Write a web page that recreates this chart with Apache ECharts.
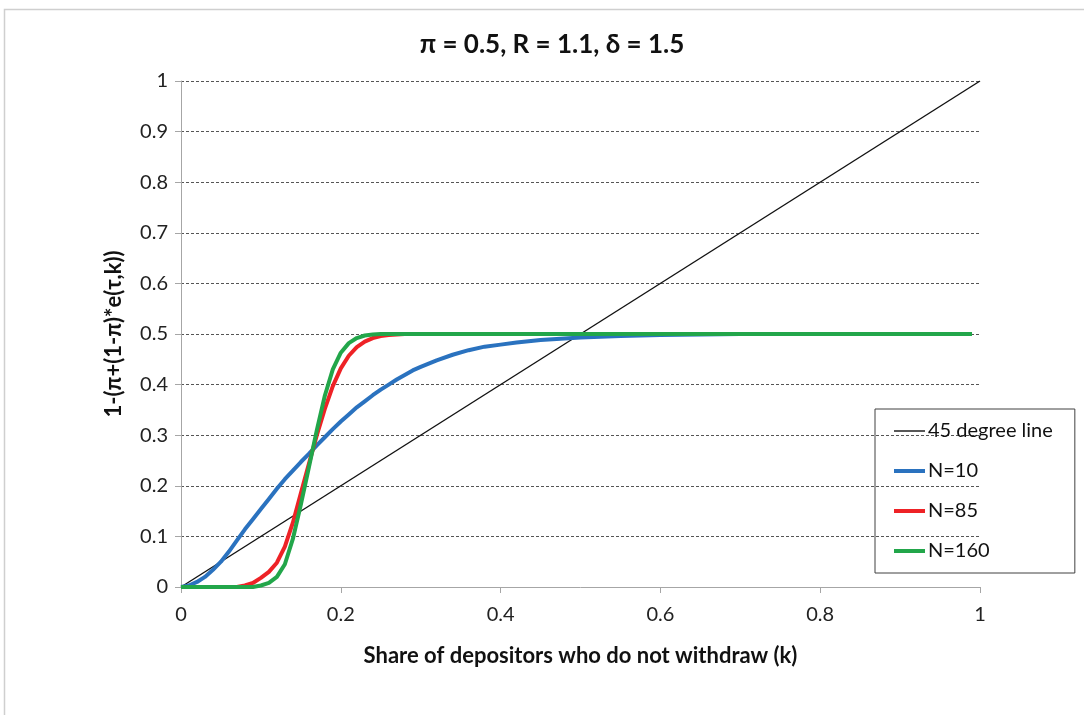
<!DOCTYPE html>
<html><head><meta charset="utf-8">
<script src="https://cdn.jsdelivr.net/npm/echarts@6/dist/echarts.min.js"></script>
<style>html,body{margin:0;padding:0;background:#fff}#c{width:1084px;height:715px}</style>
</head><body><div id="c"></div>
<script>
const titleText = "π = 0.5, R = 1.1, δ = 1.5";
const xAxisName = "Share of depositors who do not withdraw (k)";
const yAxisName = "1-(π+(1-π)*e(τ,k))";
const seriesNames = ["45 degree line", "N=10", "N=85", "N=160"];
const kValues = [0,0.01,0.02,0.03,0.04,0.05,0.06,0.07,0.08,0.09,0.10,0.11,0.12,0.13,0.14,0.15,0.16,0.17,0.18,0.19,0.20,0.21,0.22,0.23,0.24,0.25,0.26,0.27,0.28,0.29,0.30,0.32,0.34,0.36,0.38,0.40,0.42,0.45,0.50,0.55,0.60,0.65,0.70,0.80,0.90,0.99];
const lineK = [0, 1];
const lineY = [0, 1];
const n10 = [0,0.003,0.01,0.02,0.034,0.05,0.07,0.092,0.114,0.134,0.154,0.174,0.194,0.213,0.23,0.247,0.263,0.28,0.296,0.312,0.327,0.341,0.355,0.367,0.379,0.39,0.40,0.41,0.419,0.428,0.435,0.448,0.459,0.468,0.475,0.479,0.483,0.488,0.493,0.496,0.498,0.499,0.5,0.5,0.5,0.5];
const n85 = [0,0,0,0,0,0,0,0,0.003,0.008,0.018,0.03,0.048,0.08,0.127,0.185,0.243,0.30,0.352,0.397,0.432,0.457,0.474,0.485,0.492,0.496,0.498,0.499,0.5,0.5,0.5,0.5,0.5,0.5,0.5,0.5,0.5,0.5,0.5,0.5,0.5,0.5,0.5,0.5,0.5,0.5];
const n160 = [0,0,0,0,0,0,0,0,0,0,0.003,0.008,0.02,0.045,0.095,0.163,0.236,0.31,0.378,0.43,0.463,0.482,0.492,0.497,0.499,0.5,0.5,0.5,0.5,0.5,0.5,0.5,0.5,0.5,0.5,0.5,0.5,0.5,0.5,0.5,0.5,0.5,0.5,0.5,0.5,0.5];

const pair = (xs, ys) => xs.map((x, i) => [x, ys[i]]);
const FONT = 'Lato';
const chart = echarts.init(document.getElementById('c'), null, {renderer: 'canvas'});
chart.setOption({
  animation: false,
  backgroundColor: '#fff',
  textStyle: {fontFamily: FONT},
  graphic: [{type: 'rect', shape: {x: 4.5, y: 9.5, width: 1200, height: 800}, style: {fill: 'none', stroke: '#cfcfcf', lineWidth: 1.5}, silent: true}],
  title: {text: titleText, left: 547, top: 27, textAlign: 'center', textStyle: {fontFamily: FONT, fontSize: 26, fontWeight: 'bold', color: '#111'}},
  grid: {left: 181, right: 104, top: 81, bottom: 128},
  legend: {
    orient: 'vertical', left: 875, top: 409,
    data: seriesNames,
    borderColor: '#404040', borderWidth: 1, padding: [12, 22, 12, 17],
    itemWidth: 31, itemHeight: 14, itemGap: 20,
    itemStyle: {opacity: 0},
    lineStyle: {width: 'inherit'},
    textStyle: {fontFamily: FONT, fontSize: 20, color: '#111', padding: [0, 0, 0, -2]}
  },
  xAxis: {
    type: 'value', min: 0, max: 1, interval: 0.2,
    name: xAxisName, nameLocation: 'middle', nameGap: 58,
    nameTextStyle: {fontFamily: FONT, fontSize: 22, fontWeight: 'bold', color: '#111'},
    axisLine: {lineStyle: {color: '#a6a6a6', width: 1}},
    axisTick: {show: true, length: 6, lineStyle: {color: '#a6a6a6'}},
    axisLabel: {fontFamily: FONT, fontSize: 20, color: '#222', margin: 18},
    splitLine: {show: false}
  },
  yAxis: {
    type: 'value', min: 0, max: 1, interval: 0.1,
    name: yAxisName, nameLocation: 'middle', nameGap: 56, nameRotate: 90,
    nameTextStyle: {fontFamily: FONT, fontSize: 22, fontWeight: 'bold', color: '#111'},
    axisLine: {show: true, lineStyle: {color: '#a6a6a6', width: 1}},
    axisTick: {show: true, length: 6, lineStyle: {color: '#a6a6a6'}},
    axisLabel: {fontFamily: FONT, fontSize: 20, color: '#222', margin: 13},
    splitLine: {show: true, lineStyle: {color: '#555', type: [3, 2], width: 1}}
  },
  series: [
    {name: seriesNames[0], type: 'line', data: pair(lineK, lineY), symbol: 'none', lineStyle: {color: '#111', width: 1.4}, itemStyle: {color: '#111'}},
    {name: seriesNames[1], type: 'line', data: pair(kValues, n10), symbol: 'none', smooth: false, lineStyle: {color: '#2a72bf', width: 4, join: 'round'}, itemStyle: {color: '#2a72bf'}},
    {name: seriesNames[2], type: 'line', data: pair(kValues, n85), symbol: 'none', smooth: false, lineStyle: {color: '#ee2226', width: 4, join: 'round'}, itemStyle: {color: '#ee2226'}},
    {name: seriesNames[3], type: 'line', data: pair(kValues, n160), symbol: 'none', smooth: false, lineStyle: {color: '#22a64a', width: 4, join: 'round'}, itemStyle: {color: '#22a64a'}}
  ]
});
</script></body></html>
